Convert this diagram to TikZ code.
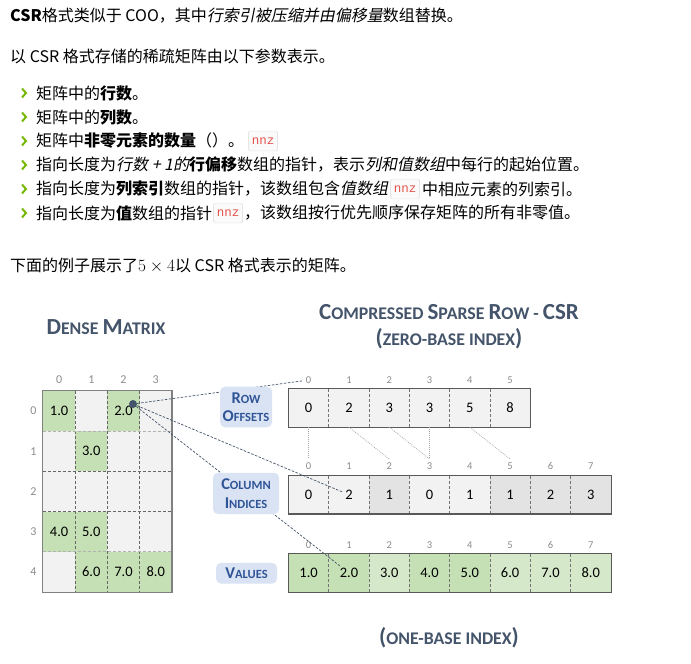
\documentclass[tikz,border=0pt]{standalone}
\usepackage[no-math]{fontspec}
\setmainfont{Carlito}
\newfontfamily\cjk{Noto Sans CJK SC}[AutoFakeSlant=0.2]
\newfontfamily\codefont{Liberation Mono}
\usetikzlibrary{positioning}

\definecolor{slate}{HTML}{44546A}
\definecolor{tagblue}{HTML}{DAE3F3}
\definecolor{tagtext}{HTML}{2F5597}
\definecolor{nzgreen}{HTML}{C5E0B4}
\definecolor{nzgreenb}{HTML}{D5E8C9}
\definecolor{zgray}{HTML}{F2F2F2}
\definecolor{zgrayb}{HTML}{E3E3E3}
\definecolor{chevgreen}{HTML}{76B900}
\definecolor{codered}{HTML}{E5534B}

% hand made small caps
\newcommand{\tsc}[2]{{\fontsize{23}{23}\selectfont #1}{\fontsize{17.8}{17.8}\selectfont #2}}
\newcommand{\lsc}[2]{{\fontsize{16.5}{16.5}\selectfont #1}{\fontsize{12.5}{12.5}\selectfont #2}}

\begin{document}
\begin{tikzpicture}[x=1pt, y=-1pt,
  txt/.style={anchor=west, inner sep=0pt, font=\cjk\fontsize{16}{16}\selectfont},
  code/.style={draw=black!15, fill=black!2, rounded corners=1.5pt, inner sep=0pt,
    minimum width=29pt, minimum height=20pt, text=codered,
    font=\codefont\fontsize{12.5}{12.5}\selectfont},
  chev/.style={chevgreen, line width=2pt},
  title/.style={text=slate, font=\bfseries\fontsize{17.8}{17.8}\selectfont},
  mcell/.style={inner sep=0pt, minimum width=32.2pt, minimum height=40.2pt,
    font=\fontsize{14.5}{14.5}\selectfont},
  acell/.style={inner sep=0pt, minimum width=40.3pt, minimum height=38pt,
    font=\fontsize{14.5}{14.5}\selectfont},
  idx/.style={text=black!45, font=\fontsize{12}{12}\selectfont},
  aidx/.style={text=black!45, font=\fontsize{10.5}{10.5}\selectfont},
  gdash/.style={dash pattern=on 3pt off 2pt, line width=0.6pt},
  border/.style={line width=1.2pt},
  ptr/.style={slate, dash pattern=on 2.5pt off 1.5pt, line width=0.7pt},
  link/.style={black!35, dash pattern=on 1pt off 1pt, line width=0.6pt},
  tag/.style={fill=tagblue, rounded corners=5pt, inner sep=0pt, align=center,
    text=tagtext, font=\bfseries\fontsize{12.5}{18.5}\selectfont}]

  % page
  \fill[white] (0,0) rectangle (691,664);
  \useasboundingbox (0,0) rectangle (691,664);

  % Text above the figure
  \node[txt] (l1) at (10,16) {\textbf{CSR}格式类似于 COO，其中\textit{行索引被压缩并由偏移量}数组替换。};
  \node[txt] (l2) at (10,56) {以 CSR 格式存储的稀疏矩阵由以下参数表示。};
  \foreach \y in {93,117,...,213}
    \draw[chev] (22,\y-4.5) -- (26,\y) -- (22,\y+4.5);
  \node[txt] (b1) at (36,93) {矩阵中的\textbf{行数}。};
  \node[txt] (b2) at (36,117) {矩阵中的\textbf{列数}。};
  \node[txt] (b3) at (36,141) {矩阵中\textbf{非零元素的数量}（）。};
  \node[code, right=4pt of b3] (nnz1) {nnz};
  \node[txt] (b4) at (36,165) {指向长度为\textit{行数 + 1的}\textbf{行偏移}数组的指针，表示\textit{列和值数组}中每行的起始位置。};
  \node[txt] (b5) at (36,189) {指向长度为\textbf{列索引}数组的指针，该数组包含\textit{值数组}};
  \node[code, right=2pt of b5] (nnz2) {nnz};
  \node[txt, right=2pt of nnz2] (b5b) {中相应元素的列索引。};
  \node[txt] (b6) at (36,213) {指向长度为\textbf{值}数组的指针};
  \node[code, right=1pt of b6] (nnz3) {nnz};
  \node[txt, right=1pt of nnz3] (b6b) {，该数组按行优先顺序保存矩阵的所有非零值。};
  \node[txt] (l3) at (10,265) {下面的例子展示了$5\times4$以 CSR 格式表示的矩阵。};

  % Titles
  \node[title] (dense) at (106,327) {\tsc{D}{ENSE} \tsc{M}{ATRIX}};
  \node[title] (csr) at (449,312) {\tsc{C}{OMPRESSED} \tsc{S}{PARSE} \tsc{R}{OW} - \tsc{CSR}{}};
  \node[title] (zero) at (449,339) {\tsc{(}{ZERO-BASE INDEX}\tsc{)}{}};
  \node[title] (one) at (449,638) {\tsc{(}{ONE-BASE INDEX}\tsc{)}{}};

  % Dense matrix: empty cells, then non-zeros
  \foreach \r/\c in {0/1,0/3,1/0,1/2,1/3,2/0,2/1,2/2,2/3,3/2,3/3,4/0}
    \node[mcell, fill=zgray] (m\r\c) at ({43+32.2*(\c+0.5)},{391+40.2*(\r+0.5)}) {};
  \foreach \r/\c/\v in {0/0/1.0,0/2/2.0,1/1/3.0,3/0/4.0,3/1/5.0,4/1/6.0,4/2/7.0,4/3/8.0}
    \node[mcell, fill=nzgreen] (m\r\c) at ({43+32.2*(\c+0.5)},{391+40.2*(\r+0.5)}) {\v};
  \foreach \c in {1,2,3}
    \draw[gdash, black!60] (m0\c.north west) -- (m4\c.south west);
  \foreach \r/\g in {1/30,2/60,3/60,4/30}
    \draw[gdash, black!\g] (m\r0.north west) -- (m\r3.north east);
  \draw[border, black!50] (m00.north west) rectangle (m43.south east);
  \foreach \c in {0,...,3}
    \node[idx] (mc\c) at ({43+32.2*(\c+0.5)},380) {\c};
  \foreach \r in {0,...,4}
    \node[idx] (mr\r) at (33.5,{391+40.2*(\r+0.5)}) {\r};

  % Row offsets
  \foreach \v [count=\i from 0] in {0,2,3,3,5,8} {
    \node[acell, fill=zgray] (ro\i) at ({288.5+40.3*(\i+0.5)},408) {\v};
    \node[aidx] (roi\i) at ({288.5+40.3*(\i+0.5)},380) {\i};
  }
  \foreach \i in {1,...,5}
    \draw[gdash, black!55] (ro\i.north west) -- (ro\i.south west);
  \draw[border, black!65] (ro0.north west) rectangle (ro5.south east);

  % Column indices
  \foreach \v/\f [count=\i from 0] in {0/zgray,2/zgray,1/zgrayb,0/zgray,1/zgray,1/zgrayb,2/zgrayb,3/zgrayb} {
    \node[acell, fill=\f] (ci\i) at ({288.5+40.3*(\i+0.5)},494.7) {\v};
    \node[aidx] (cii\i) at ({288.5+40.3*(\i+0.5)},466) {\i};
  }
  \foreach \i in {1,...,7}
    \draw[gdash, black!55] (ci\i.north west) -- (ci\i.south west);
  \draw[border, black!65] (ci0.north west) rectangle (ci7.south east);

  % Values
  \foreach \v/\f [count=\i from 0] in {1.0/nzgreen,2.0/nzgreen,3.0/nzgreenb,4.0/nzgreen,5.0/nzgreen,6.0/nzgreenb,7.0/nzgreenb,8.0/nzgreenb} {
    \node[acell, fill=\f] (va\i) at ({288.5+40.3*(\i+0.5)},573) {\v};
    \node[aidx] (vai\i) at ({288.5+40.3*(\i+0.5)},545) {\i};
  }
  \foreach \i in {1,...,7}
    \draw[gdash, black!55] (va\i.north west) -- (va\i.south west);
  \draw[border, black!65] (va0.north west) rectangle (va7.south east);

  % Offsets point into column indices
  \draw[link] (ro0.south) -- (cii0.north);
  \draw[link] (ro1.south) -- (cii2.north);
  \draw[link] (ro2.south) -- (cii3.north);
  \draw[link] (ro3.south) -- (cii3.north);
  \draw[link] (ro4.south) -- (cii5.north);

  % Element 2.0 and its pointers
  \node[circle, fill=slate, inner sep=0pt, minimum size=8pt] (dot) at (133,404) {};
  \draw[ptr] (dot) -- (roi0);
  \draw[ptr, shorten >=7pt] (dot) -- (ci1.center);
  \draw[ptr, shorten >=11pt] (dot) -- (va1.center);

  % Labels
  \node[tag, minimum width=52pt, minimum height=40.6pt] (rowlbl) at (246,407) {\lsc{R}{OW}\\\lsc{O}{FFSETS}};
  \node[tag, minimum width=66pt, minimum height=41.3pt] (collbl) at (246,493.4) {\lsc{C}{OLUMN}\\\lsc{I}{NDICES}};
  \node[tag, minimum width=61pt, minimum height=20.7pt] (vallbl) at (246.5,573.3) {\lsc{V}{ALUES}};
\end{tikzpicture}
\end{document}
